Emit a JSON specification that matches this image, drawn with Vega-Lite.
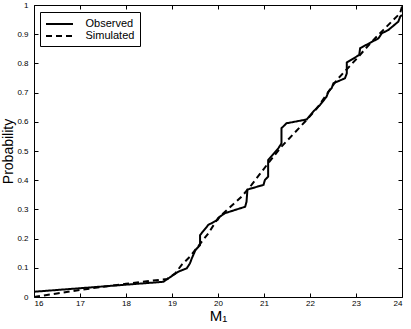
{
  "$schema": "https://vega.github.io/schema/vega-lite/v6.json",
  "width": 368,
  "height": 292,
  "autosize": "none",
  "padding": {"left": 34, "top": 5, "right": 9, "bottom": 32},
  "background": "white",
  "config": {
    "view": {"stroke": "black", "strokeWidth": 1},
    "font": "Liberation Sans",
    "axis": {"labelFont": "Liberation Sans", "titleFont": "Liberation Sans", "labelColor": "black", "titleColor": "black", "tickColor": "black", "domain": false, "grid": false}
  },
  "data": {"values": [
    {"s": "Observed", "i": 0, "m": 16.0, "p": 0.018},
    {"s": "Observed", "i": 1, "m": 17.0, "p": 0.03},
    {"s": "Observed", "i": 2, "m": 17.9, "p": 0.041},
    {"s": "Observed", "i": 3, "m": 18.81, "p": 0.052},
    {"s": "Observed", "i": 4, "m": 19.14, "p": 0.087},
    {"s": "Observed", "i": 5, "m": 19.32, "p": 0.098},
    {"s": "Observed", "i": 6, "m": 19.39, "p": 0.115},
    {"s": "Observed", "i": 7, "m": 19.43, "p": 0.132},
    {"s": "Observed", "i": 8, "m": 19.51, "p": 0.161},
    {"s": "Observed", "i": 9, "m": 19.61, "p": 0.178},
    {"s": "Observed", "i": 10, "m": 19.61, "p": 0.212},
    {"s": "Observed", "i": 11, "m": 19.79, "p": 0.247},
    {"s": "Observed", "i": 12, "m": 19.99, "p": 0.264},
    {"s": "Observed", "i": 13, "m": 20.04, "p": 0.275},
    {"s": "Observed", "i": 14, "m": 20.15, "p": 0.287},
    {"s": "Observed", "i": 15, "m": 20.59, "p": 0.309},
    {"s": "Observed", "i": 16, "m": 20.62, "p": 0.326},
    {"s": "Observed", "i": 17, "m": 20.64, "p": 0.368},
    {"s": "Observed", "i": 18, "m": 20.99, "p": 0.384},
    {"s": "Observed", "i": 19, "m": 21.02, "p": 0.401},
    {"s": "Observed", "i": 20, "m": 21.09, "p": 0.412},
    {"s": "Observed", "i": 21, "m": 21.09, "p": 0.469},
    {"s": "Observed", "i": 22, "m": 21.31, "p": 0.509},
    {"s": "Observed", "i": 23, "m": 21.38, "p": 0.526},
    {"s": "Observed", "i": 24, "m": 21.38, "p": 0.578},
    {"s": "Observed", "i": 25, "m": 21.49, "p": 0.595},
    {"s": "Observed", "i": 26, "m": 21.93, "p": 0.608},
    {"s": "Observed", "i": 27, "m": 22.07, "p": 0.635},
    {"s": "Observed", "i": 28, "m": 22.22, "p": 0.658},
    {"s": "Observed", "i": 29, "m": 22.36, "p": 0.686},
    {"s": "Observed", "i": 30, "m": 22.40, "p": 0.703},
    {"s": "Observed", "i": 31, "m": 22.47, "p": 0.715},
    {"s": "Observed", "i": 32, "m": 22.51, "p": 0.732},
    {"s": "Observed", "i": 33, "m": 22.76, "p": 0.749},
    {"s": "Observed", "i": 34, "m": 22.80, "p": 0.766},
    {"s": "Observed", "i": 35, "m": 22.80, "p": 0.803},
    {"s": "Observed", "i": 36, "m": 23.07, "p": 0.829},
    {"s": "Observed", "i": 37, "m": 23.09, "p": 0.852},
    {"s": "Observed", "i": 38, "m": 23.49, "p": 0.886},
    {"s": "Observed", "i": 39, "m": 23.56, "p": 0.903},
    {"s": "Observed", "i": 40, "m": 23.70, "p": 0.914},
    {"s": "Observed", "i": 41, "m": 23.92, "p": 0.943},
    {"s": "Observed", "i": 42, "m": 23.96, "p": 0.960},
    {"s": "Observed", "i": 43, "m": 24.0, "p": 0.966},
    {"s": "Simulated", "i": 0, "m": 16.0, "p": 0.0},
    {"s": "Simulated", "i": 1, "m": 16.5, "p": 0.012},
    {"s": "Simulated", "i": 2, "m": 17.0, "p": 0.024},
    {"s": "Simulated", "i": 3, "m": 17.5, "p": 0.035},
    {"s": "Simulated", "i": 4, "m": 18.0, "p": 0.045},
    {"s": "Simulated", "i": 5, "m": 18.3, "p": 0.051},
    {"s": "Simulated", "i": 6, "m": 18.9, "p": 0.062},
    {"s": "Simulated", "i": 7, "m": 19.07, "p": 0.081},
    {"s": "Simulated", "i": 8, "m": 19.21, "p": 0.11},
    {"s": "Simulated", "i": 9, "m": 19.39, "p": 0.138},
    {"s": "Simulated", "i": 10, "m": 19.79, "p": 0.218},
    {"s": "Simulated", "i": 11, "m": 20.0, "p": 0.27},
    {"s": "Simulated", "i": 12, "m": 20.51, "p": 0.343},
    {"s": "Simulated", "i": 13, "m": 20.73, "p": 0.384},
    {"s": "Simulated", "i": 14, "m": 21.09, "p": 0.458},
    {"s": "Simulated", "i": 15, "m": 21.38, "p": 0.515},
    {"s": "Simulated", "i": 16, "m": 21.89, "p": 0.6},
    {"s": "Simulated", "i": 17, "m": 22.15, "p": 0.646},
    {"s": "Simulated", "i": 18, "m": 22.58, "p": 0.743},
    {"s": "Simulated", "i": 19, "m": 23.02, "p": 0.817},
    {"s": "Simulated", "i": 20, "m": 23.34, "p": 0.874},
    {"s": "Simulated", "i": 21, "m": 23.59, "p": 0.914},
    {"s": "Simulated", "i": 22, "m": 23.96, "p": 0.972},
    {"s": "Simulated", "i": 23, "m": 24.0, "p": 0.995}
  ]},
  "layer": [
    {
      "mark": {"type": "line", "color": "black", "strokeWidth": 2, "clip": true},
      "encoding": {
        "x": {"field": "m", "type": "quantitative", "scale": {"domain": [16, 24], "nice": false, "zero": false},
          "axis": {"values": [16,17,18,19,20,21,22,23,24], "format": "d", "tickSize": -4, "labelPadding": 6, "labelFontSize": 8, "title": "M₁", "titleFontSize": 15, "titleFontWeight": "normal", "titlePadding": 1}},
        "y": {"field": "p", "type": "quantitative", "scale": {"domain": [0, 1], "nice": false},
          "axis": {"values": [0,0.1,0.2,0.3,0.4,0.5,0.6,0.7,0.8,0.9,1], "format": "~g", "tickSize": -4, "labelPadding": 10, "labelFontSize": 8, "title": "Probability", "titleFontSize": 14, "titleFontWeight": "normal", "titleX": -26, "titleY": 146, "titleAngle": 270, "titleBaseline": "middle", "titleAlign": "center"}},
        "order": {"field": "i", "type": "quantitative"},
        "strokeDash": {"field": "s", "type": "nominal",
          "scale": {"domain": ["Observed", "Simulated"], "range": [[1, 0], [6, 4]]},
          "legend": {"title": null, "orient": "none", "legendX": 6, "legendY": 7, "symbolType": "M-2.25,0H2.25", "symbolSize": 144, "symbolStrokeWidth": 2, "symbolStrokeColor": "black", "labelFontSize": 11, "labelColor": "black", "strokeColor": "black", "fillColor": "white", "padding": 5, "rowPadding": 0, "labelOffset": 19, "symbolOffset": 7.5}}
      }
    },
    {
      "mark": {"type": "point", "opacity": 0},
      "encoding": {
        "x": {"field": "m", "type": "quantitative", "axis": {"orient": "top", "values": [16,17,18,19,20,21,22,23,24], "tickSize": -4, "labels": false, "title": null}},
        "y": {"field": "p", "type": "quantitative", "axis": {"orient": "right", "values": [0,0.1,0.2,0.3,0.4,0.5,0.6,0.7,0.8,0.9,1], "tickSize": -4, "labels": false, "title": null}}
      }
    }
  ],
  "resolve": {"axis": {"x": "independent", "y": "independent"}}
}
